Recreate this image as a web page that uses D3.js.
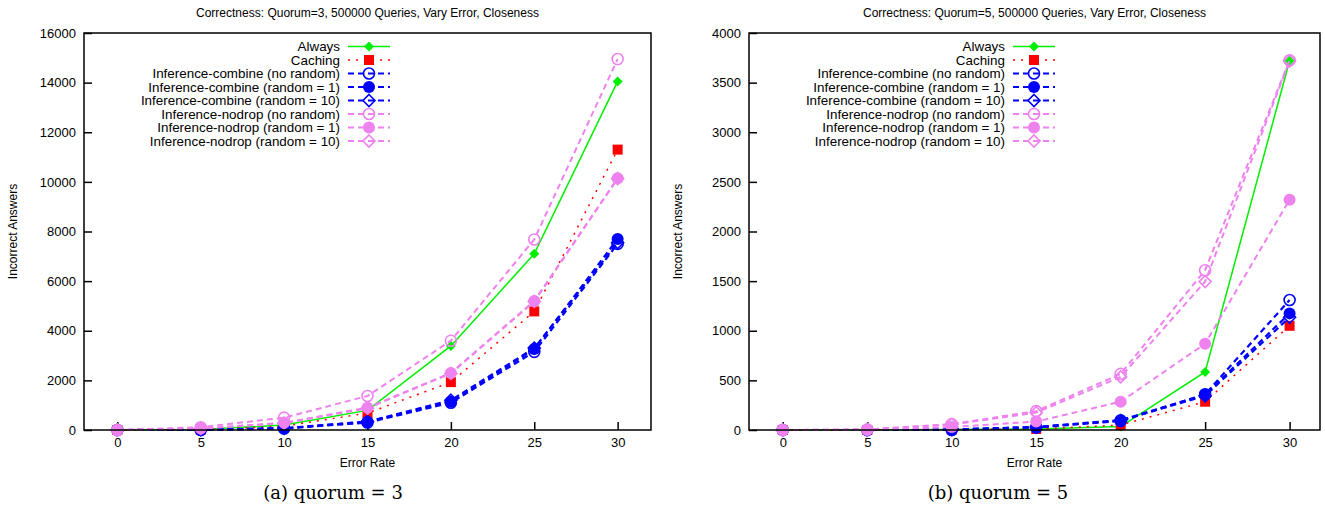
<!DOCTYPE html>
<html>
<head>
<meta charset="utf-8">
<script src="https://cdn.jsdelivr.net/npm/d3@7"></script>
<style>
body { margin: 0; background: #fff; }
svg text { font-family: "Liberation Sans", Arial, sans-serif; }
</style>
</head>
<body>
<svg id="chart" width="1325" height="512"></svg>
<script>
"use strict";

// x values (error rate)
const errorRates = [0, 5, 10, 15, 20, 25, 30];
const seriesNames = ["Always", "Caching", "Inference-combine (no random)", "Inference-combine (random = 1)",
    "Inference-combine (random = 10)", "Inference-nodrop (no random)", "Inference-nodrop (random = 1)",
    "Inference-nodrop (random = 10)"];

// quorum = 3
const q3Always = [0, 20, 200, 790, 3390, 7100, 14050];
const q3Caching = [0, 10, 150, 680, 1930, 4780, 11300];
const q3CombNo = [0, 0, 60, 300, 1100, 3150, 7500];
const q3Comb1 = [0, 5, 70, 330, 1140, 3260, 7700];
const q3Comb10 = [0, 5, 70, 340, 1200, 3300, 7550];
const q3NodropNo = [0, 110, 500, 1370, 3600, 7680, 14950];
const q3Nodrop1 = [0, 60, 290, 900, 2300, 5200, 10150];
const q3Nodrop10 = [0, 60, 280, 880, 2280, 5180, 10130];
const q3Ticks = [0, 2000, 4000, 6000, 8000, 10000, 12000, 14000, 16000];

// quorum = 5
const q5Always = [0, 0, 5, 10, 35, 585, 3720];
const q5Caching = [0, 0, 5, 10, 50, 285, 1050];
const q5CombNo = [0, 0, 0, 25, 90, 360, 1310];
const q5Comb1 = [0, 0, 5, 30, 100, 355, 1175];
const q5Comb10 = [0, 0, 5, 30, 95, 345, 1135];
const q5NodropNo = [0, 5, 60, 190, 565, 1610, 3725];
const q5Nodrop1 = [0, 2, 30, 85, 285, 870, 2320];
const q5Nodrop10 = [0, 5, 55, 175, 535, 1495, 3720];
const q5Ticks = [0, 500, 1000, 1500, 2000, 2500, 3000, 3500, 4000];

const xTicks = [0, 5, 10, 15, 20, 25, 30];

// line / marker styles per series
const styles = [
    {color: "#00ee00", width: 1.5, dash: null, marker: "diamond", fill: true, size: 5},
    {color: "#ff0000", width: 1.5, dash: "2,6", marker: "square", fill: true, size: 5},
    {color: "#0000ff", width: 2.2, dash: "6,4", marker: "circle", fill: false, size: 5.5},
    {color: "#0000ff", width: 2.2, dash: "6,4", marker: "circle", fill: true, size: 6},
    {color: "#0000ff", width: 2.2, dash: "6,4", marker: "diamond", fill: false, size: 6},
    {color: "#ee82ee", width: 2, dash: "6,4", marker: "circle", fill: false, size: 5.5},
    {color: "#ee82ee", width: 2, dash: "6,4", marker: "circle", fill: true, size: 6},
    {color: "#ee82ee", width: 2, dash: "6,4", marker: "diamond", fill: false, size: 6}
];

const svg = d3.select("#chart");

function drawMarker(g, st, cx, cy) {
    let m;
    if (st.marker === "circle") {
        m = g.append("circle").attr("cx", cx).attr("cy", cy).attr("r", st.size);
    } else if (st.marker === "square") {
        m = g.append("rect").attr("x", cx - st.size).attr("y", cy - st.size)
            .attr("width", st.size * 2).attr("height", st.size * 2);
    } else {
        let s = st.size;
        m = g.append("path").attr("d", `M${cx},${cy - s}L${cx + s},${cy}L${cx},${cy + s}L${cx - s},${cy}Z`);
    }
    if (st.fill) {
        m.attr("fill", st.color).attr("stroke", "none");
    } else {
        m.attr("fill", "none").attr("stroke", st.color).attr("stroke-width", 1.6);
    }
}

function drawPanel(opts) {
    let x = d3.scaleLinear().domain(opts.xDomain).range([opts.left, opts.right]);
    let y = d3.scaleLinear().domain([0, opts.yMax]).range([430, 33]);
    let g = svg.append("g");

    // title
    g.append("text").attr("x", (opts.left + opts.right) / 2).attr("y", 17)
        .attr("text-anchor", "middle").style("font-size", "12px").text(opts.title);

    // axes (ticks pointing inward)
    g.append("g").attr("transform", "translate(0,430)")
        .call(d3.axisBottom(x).tickValues(xTicks).tickFormat(d3.format("d"))
            .tickSizeInner(-8).tickSizeOuter(0).tickPadding(8))
        .call(a => a.select(".domain").remove())
        .selectAll("text").style("font-size", "13px").attr("fill", "#000")
        .style("font-family", "Liberation Sans, Arial, sans-serif");
    g.append("g").attr("transform", `translate(${opts.left},0)`)
        .call(d3.axisLeft(y).tickValues(opts.yTicks).tickFormat(d3.format("d"))
            .tickSizeInner(-8).tickSizeOuter(0).tickPadding(8))
        .call(a => a.select(".domain").remove())
        .selectAll("text").style("font-size", "13px").attr("fill", "#000")
        .style("font-family", "Liberation Sans, Arial, sans-serif");
    g.selectAll(".tick line").attr("stroke", "#000").attr("stroke-width", 1.5);

    // axis labels
    g.append("text").attr("x", (opts.left + opts.right) / 2).attr("y", 467)
        .attr("text-anchor", "middle").style("font-size", "12px").text("Error Rate");
    g.append("text").attr("transform", `translate(${opts.left - 67},231.5) rotate(-90)`)
        .attr("text-anchor", "middle").style("font-size", "12px").text("Incorrect Answers");

    // data lines and markers
    opts.series.forEach((vals, i) => {
        let st = styles[i];
        let line = d3.line().x((d, j) => x(errorRates[j])).y(d => y(d));
        g.append("path").datum(vals).attr("d", line).attr("fill", "none")
            .attr("stroke", st.color).attr("stroke-width", st.width)
            .attr("stroke-dasharray", st.dash);
        vals.forEach((v, j) => drawMarker(g, st, x(errorRates[j]), y(v)));
    });

    // legend
    let lx = opts.left + 256;
    seriesNames.forEach((name, i) => {
        let st = styles[i];
        let ly = 46.5 + i * 13.5;
        g.append("text").attr("x", lx).attr("y", ly + 4.5).attr("text-anchor", "end")
            .style("font-size", "13.4px").text(name);
        g.append("line").attr("x1", lx + 8).attr("x2", lx + 50).attr("y1", ly).attr("y2", ly)
            .attr("stroke", st.color).attr("stroke-width", st.width).attr("stroke-dasharray", st.dash);
        drawMarker(g, st, lx + 29, ly);
    });

    // frame
    g.append("rect").attr("x", opts.left).attr("y", 33)
        .attr("width", opts.right - opts.left).attr("height", 397)
        .attr("fill", "none").attr("stroke", "#000").attr("stroke-width", 1.5);

    // caption
    g.append("text").attr("x", opts.capX).attr("y", 499).attr("text-anchor", "middle")
        .style("font-family", "'DejaVu Serif', 'Liberation Serif', serif").style("font-size", "18px")
        .text(opts.caption);
}

drawPanel({
    left: 84, right: 651, xDomain: [-2, 32], yMax: 16000, yTicks: q3Ticks,
    title: "Correctness: Quorum=3, 500000 Queries, Vary Error, Closeness",
    series: [q3Always, q3Caching, q3CombNo, q3Comb1, q3Comb10, q3NodropNo, q3Nodrop1, q3Nodrop10],
    caption: "(a) quorum = 3", capX: 333
});

drawPanel({
    left: 749, right: 1320, xDomain: [-2, 31.8], yMax: 4000, yTicks: q5Ticks,
    title: "Correctness: Quorum=5, 500000 Queries, Vary Error, Closeness",
    series: [q5Always, q5Caching, q5CombNo, q5Comb1, q5Comb10, q5NodropNo, q5Nodrop1, q5Nodrop10],
    caption: "(b) quorum = 5", capX: 998
});
</script>
</body>
</html>
